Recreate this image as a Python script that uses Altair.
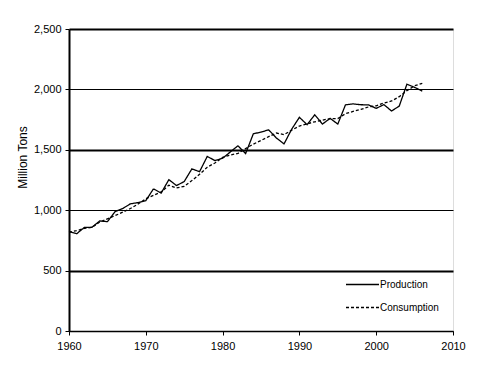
import altair as alt
import pandas as pd

years = list(range(1960, 2007))
production = [824, 805, 857, 859, 911, 905, 988, 1014, 1053, 1063,
              1079, 1177, 1141, 1253, 1204, 1237, 1342, 1319, 1445, 1411,
              1430, 1482, 1533, 1469, 1632, 1647, 1665, 1598, 1549, 1671,
              1769, 1708, 1790, 1713, 1760, 1713, 1872, 1880, 1873, 1872,
              1843, 1874, 1821, 1862, 2043, 2017, 1986]
consumption = [817, 831, 849, 858, 902, 929, 955, 984, 1014, 1051,
               1095, 1123, 1151, 1207, 1184, 1198, 1245, 1297, 1356, 1391,
               1437, 1457, 1470, 1510, 1547, 1577, 1609, 1639, 1626, 1663,
               1697, 1715, 1732, 1746, 1758, 1759, 1799, 1818, 1834, 1855,
               1864, 1887, 1904, 1940, 1990, 2030, 2050]
series_names = ["Production", "Consumption"]
y_ticks = [0, 500, 1000, 1500, 2000, 2500]
x_ticks = [1960, 1970, 1980, 1990, 2000, 2010]

rows = []
for i, yr in enumerate(years):
    rows.append({"year": yr, "value": production[i], "series": series_names[0]})
    rows.append({"year": yr, "value": consumption[i], "series": series_names[1]})
df = pd.DataFrame(rows)

FONT = "Liberation Sans"

chart = alt.Chart(df).mark_line(color="black", strokeWidth=1.3).encode(
    x=alt.X("year:Q",
            scale=alt.Scale(domain=[1960, 2010], nice=False, zero=False),
            axis=alt.Axis(values=x_ticks, format="d", title=None, grid=False,
                          labelFlush=False, labelOverlap=False,
                          domainColor="black", domainWidth=1.5,
                          tickColor="black", tickSize=4, tickWidth=1,
                          labelPadding=5, labelFont=FONT, labelFontSize=11,
                          labelColor="black")),
    y=alt.Y("value:Q",
            scale=alt.Scale(domain=[0, 2500], nice=False),
            axis=alt.Axis(values=y_ticks, format=",.0f", title="Million Tons",
                          labelFlush=False, labelOverlap=False,
                          titleFont=FONT, titleFontSize=12, titleFontWeight="normal",
                          titleColor="black", titleY=128, titleX=-40,
                          grid=True, gridColor="black",
                          gridWidth={"condition": {"test": "datum.value % 1000 === 500", "value": 2}, "value": 1},
                          domainColor="black", domainWidth=2,
                          tickColor="black", tickSize=4, tickWidth=1,
                          labelPadding=4, labelFont=FONT, labelFontSize=11,
                          labelColor="black")),
    strokeDash=alt.StrokeDash("series:N",
                              scale=alt.Scale(domain=series_names, range=[[1, 0], [3, 2]]),
                              legend=alt.Legend(title=None, orient="none", legendX=276, legendY=238,
                                                symbolType="stroke", symbolSize=1089,
                                                symbolStrokeColor="black", symbolStrokeWidth=1.3,
                                                labelFont=FONT, labelFontSize=10, labelColor="black",
                                                labelOffset=0, rowPadding=0, padding=0)),
    detail="series:N",
).properties(
    width=384, height=302,
    padding={"left": 61, "top": 21, "right": 39, "bottom": 27},
    autosize=alt.AutoSizeParams(type="none"),
).configure_view(stroke="black", strokeWidth=1).configure(background="white")

chart.save("out.html", embed_options={"renderer": "svg", "actions": False})
